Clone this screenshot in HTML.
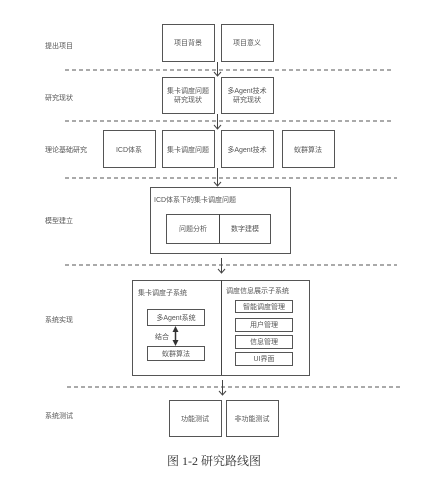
<!DOCTYPE html>
<html><head><meta charset="utf-8"><style>
html,body{margin:0;padding:0;background:#fff;}
svg{display:block;}
text{font-family:"Liberation Sans","Noto Sans CJK SC",sans-serif;font-size:7px;fill:#555;}
.b{fill:#fff;stroke:#555;stroke-width:1;}
.d{stroke:#555;stroke-width:1;stroke-dasharray:4,3;}
.a{stroke:#444;stroke-width:1;fill:none;}
</style></head><body>
<svg width="443" height="488" viewBox="0 0 443 488" xmlns="http://www.w3.org/2000/svg">
<!-- labels -->
<text x="45" y="48">提出项目</text>
<text x="45" y="100">研究现状</text>
<text x="45" y="152">理论基础研究</text>
<text x="45" y="223">模型建立</text>
<text x="45" y="322">系统实现</text>
<text x="45" y="418">系统测试</text>
<!-- dashed -->
<line class="d" x1="65" y1="70" x2="393" y2="70"/>
<line class="d" x1="65" y1="121" x2="393" y2="121"/>
<line class="d" x1="65" y1="178" x2="397" y2="178"/>
<line class="d" x1="65" y1="265" x2="397" y2="265"/>
<line class="d" x1="67" y1="387" x2="400" y2="387"/>
<!-- row1 -->
<rect class="b" x="162.5" y="24.5" width="52" height="37"/>
<rect class="b" x="221.5" y="24.5" width="52" height="37"/>
<text x="188" y="45" text-anchor="middle">项目背景</text>
<text x="247" y="45" text-anchor="middle">项目意义</text>
<!-- row2 -->
<rect class="b" x="162.5" y="77.5" width="52" height="36"/>
<rect class="b" x="221.5" y="77.5" width="52" height="36"/>
<text x="188" y="93" text-anchor="middle">集卡调度问题</text>
<text x="188" y="102" text-anchor="middle">研究现状</text>
<text x="247" y="93" text-anchor="middle">多Agent技术</text>
<text x="247" y="102" text-anchor="middle">研究现状</text>
<!-- row3 -->
<rect class="b" x="103.5" y="130.5" width="52" height="37"/>
<rect class="b" x="162.5" y="130.5" width="52" height="37"/>
<rect class="b" x="221.5" y="130.5" width="52" height="37"/>
<rect class="b" x="282.5" y="130.5" width="52" height="37"/>
<text x="129" y="152" text-anchor="middle">ICD体系</text>
<text x="188" y="152" text-anchor="middle">集卡调度问题</text>
<text x="247" y="152" text-anchor="middle">多Agent技术</text>
<text x="308" y="152" text-anchor="middle">蚁群算法</text>
<!-- model -->
<rect class="b" x="150.5" y="187.5" width="140" height="66"/>
<text x="154" y="202">ICD体系下的集卡调度问题</text>
<rect class="b" x="166.5" y="214.5" width="104" height="29"/>
<line class="a" x1="219.5" y1="214" x2="219.5" y2="243"/>
<text x="193" y="231" text-anchor="middle">问题分析</text>
<text x="245" y="231" text-anchor="middle">数字建模</text>
<!-- system -->
<rect class="b" x="132.5" y="280.5" width="177" height="95"/>
<line class="a" x1="221.5" y1="280" x2="221.5" y2="375"/>
<text x="138" y="295">集卡调度子系统</text>
<text x="226" y="293">调度信息展示子系统</text>
<rect class="b" x="147.5" y="309.5" width="57" height="16"/>
<rect class="b" x="147.5" y="346.5" width="57" height="14"/>
<text x="176" y="320" text-anchor="middle">多Agent系统</text>
<text x="176" y="356" text-anchor="middle">蚁群算法</text>
<line x1="175.5" y1="331" x2="175.5" y2="340" stroke="#333" stroke-width="1.5"/>
<polygon points="175.5,326 172.5,332 178.5,332" fill="#333"/>
<polygon points="175.5,346 172.5,340 178.5,340" fill="#333"/>
<text x="155" y="339">结合</text>
<rect class="b" x="235.5" y="300.5" width="57" height="12"/>
<rect class="b" x="235.5" y="318.5" width="57" height="13"/>
<rect class="b" x="235.5" y="335.5" width="57" height="13"/>
<rect class="b" x="235.5" y="352.5" width="57" height="13"/>
<text x="264" y="309" text-anchor="middle">智能调度管理</text>
<text x="264" y="327" text-anchor="middle">用户管理</text>
<text x="264" y="344" text-anchor="middle">信息管理</text>
<text x="264" y="361" text-anchor="middle">UI界面</text>
<!-- test -->
<rect class="b" x="169.5" y="400.5" width="52" height="36"/>
<rect class="b" x="226.5" y="400.5" width="52" height="36"/>
<text x="195" y="421" text-anchor="middle">功能测试</text>
<text x="252" y="421" text-anchor="middle">非功能测试</text>
<!-- arrows -->
<path class="a" d="M217.5 62 V76 M214 72 L217.5 76 L221 72"/>
<path class="a" d="M217.5 114 V129 M214 125 L217.5 129 L221 125"/>
<path class="a" d="M217.5 168 V186 M214 182 L217.5 186 L221 182"/>
<path class="a" d="M221.5 258 V273 M218 269 L221.5 273 L225 269"/>
<path class="a" d="M222.5 380 V395 M219 391 L222.5 395 L226 391"/>
<!-- caption -->
<text x="214" y="465" text-anchor="middle" style="font-family:'Liberation Serif','Noto Serif CJK SC',serif;font-size:12px;fill:#333;">图  1-2  研究路线图</text>
</svg>
</body></html>
